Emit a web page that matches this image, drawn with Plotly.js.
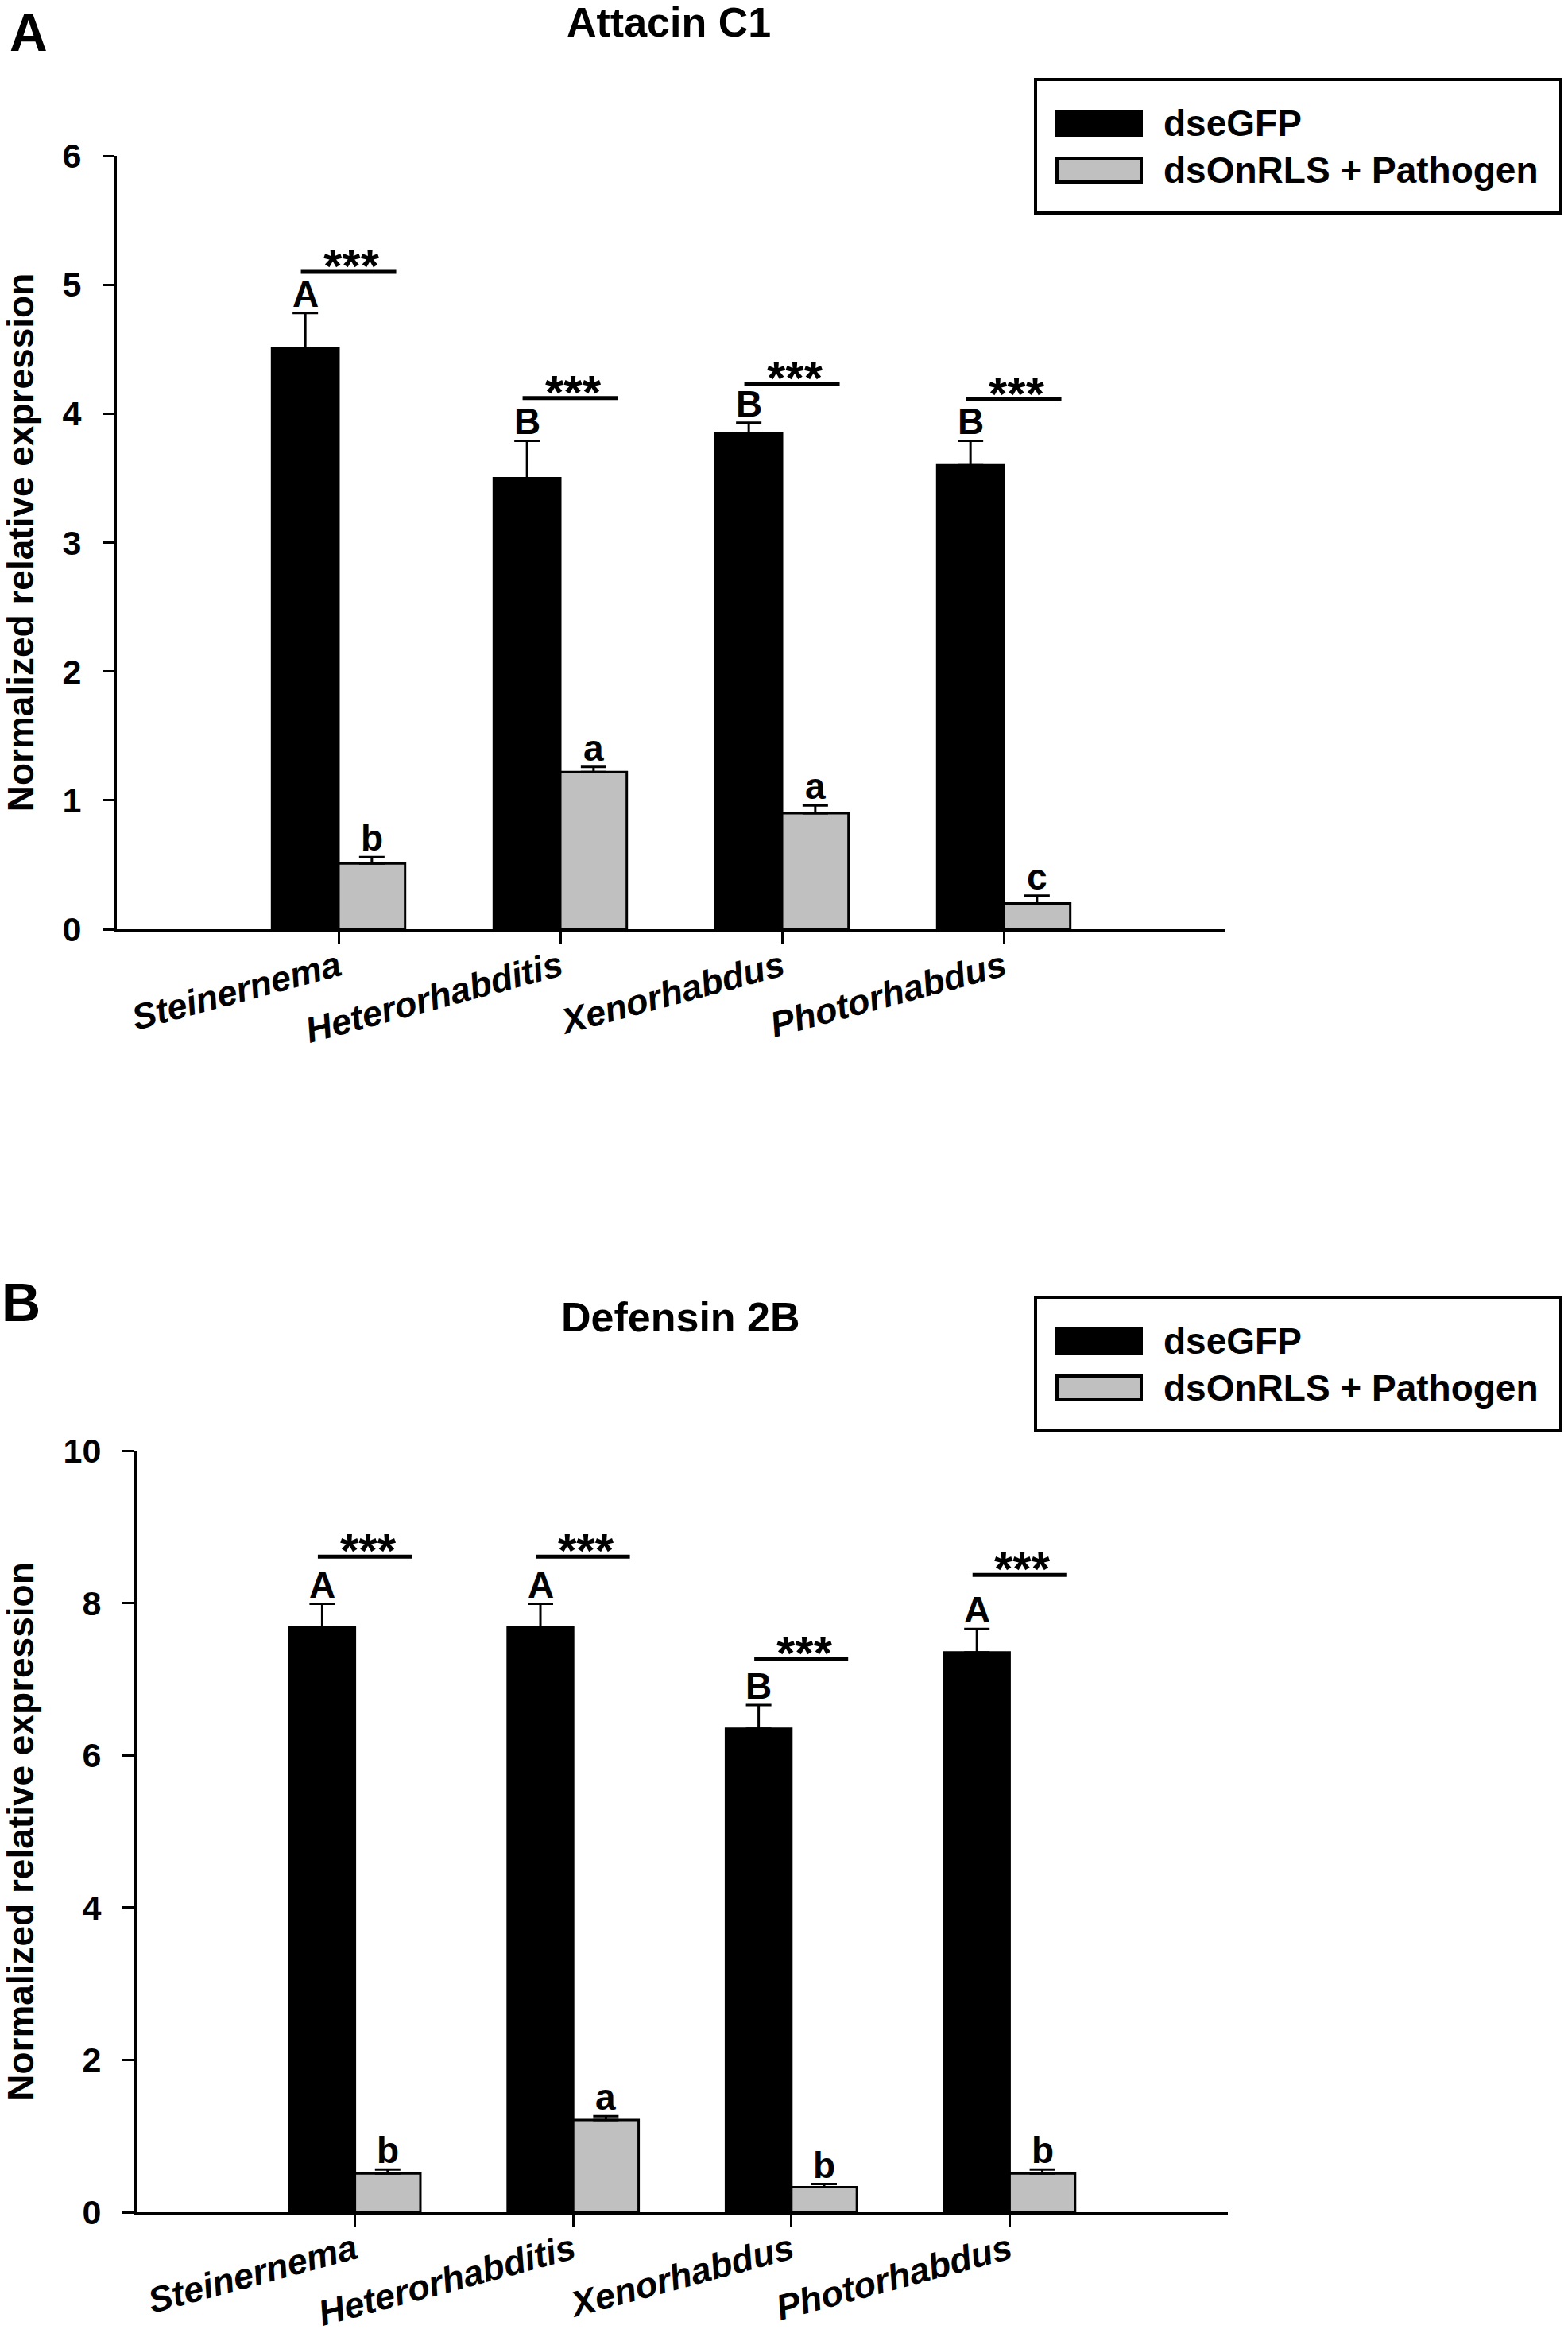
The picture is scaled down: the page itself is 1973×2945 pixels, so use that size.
<!DOCTYPE html>
<html>
<head>
<meta charset="utf-8">
<script src="https://cdn.plot.ly/plotly-3.0.1.min.js"></script>
<style>
  body { margin: 0; background: #fff; }
  #chart { width: 1973px; height: 2945px; }
</style>
</head>
<body>
<div id="chart"></div>
<script>
var categories = ['Steinernema', 'Heterorhabditis', 'Xenorhabdus', 'Photorhabdus'];
var seriesNames = ['dseGFP', 'dsOnRLS + Pathogen'];

// panel A - Attacin C1
var attacinControl = [4.51, 3.50, 3.85, 3.60];
var attacinControlErr = [0.27, 0.29, 0.08, 0.19];
var attacinPathogen = [0.51, 1.22, 0.90, 0.20];
var attacinPathogenErr = [0.05, 0.04, 0.06, 0.06];
var attacinControlLetters = ['A', 'B', 'B', 'B'];
var attacinPathogenLetters = ['b', 'a', 'a', 'c'];
var attacinStarLevel = [5.10, 4.12, 4.23, 4.11];

// panel B - Defensin 2B
var defensinControl = [7.68, 7.68, 6.35, 7.35];
var defensinControlErr = [0.31, 0.31, 0.31, 0.31];
var defensinPathogen = [0.51, 1.21, 0.33, 0.51];
var defensinPathogenErr = [0.05, 0.05, 0.04, 0.05];
var defensinControlLetters = ['A', 'A', 'B', 'A'];
var defensinPathogenLetters = ['b', 'a', 'b', 'b'];
var defensinStarLevel = [8.61, 8.61, 7.27, 8.37];

var W = 1973, H = 2945;
var FONT = 'Liberation Sans, Arial, Helvetica, sans-serif';
var GREY = '#c0c0c0';
var HALF = 0.15; // half of one bar width in category units

function px(x) { return x / W; }
function py(y) { return 1 - y / H; }

var xs = categories.map(function (c, i) { return i; });
var zeros = categories.map(function () { return 0; });

function makeBars(vals, errs, color, name, xa, ya) {
    return {
        type: 'bar',
        x: xs,
        y: vals,
        name: name,
        xaxis: xa,
        yaxis: ya,
        marker: { color: color, line: { color: '#000', width: 3 } },
        error_y: {
            type: 'data', symmetric: false,
            array: errs, arrayminus: zeros,
            color: '#000', thickness: 3, width: 16
        },
        showlegend: false,
        hoverinfo: 'skip'
    };
}

var data = [
    makeBars(attacinControl, attacinControlErr, '#000', seriesNames[0], 'x', 'y'),
    makeBars(attacinPathogen, attacinPathogenErr, GREY, seriesNames[1], 'x', 'y'),
    makeBars(defensinControl, defensinControlErr, '#000', seriesNames[0], 'x2', 'y2'),
    makeBars(defensinPathogen, defensinPathogenErr, GREY, seriesNames[1], 'x2', 'y2')
];

var annotations = [];
var shapes = [];

// letters above error bars and significance bars
function addMarks(ctrl, ctrlErr, path, pathErr, ctrlLet, pathLet, stars, xr, yr) {
    for (var i = 0; i < xs.length; i++) {
        annotations.push({
            xref: xr, yref: yr, x: xs[i] - HALF, y: ctrl[i] + ctrlErr[i],
            text: ctrlLet[i], showarrow: false, yanchor: 'bottom', yshift: -4,
            font: { family: FONT, size: 46, weight: 'bold', color: '#000' }
        });
        annotations.push({
            xref: xr, yref: yr, x: xs[i] + HALF, y: path[i] + pathErr[i],
            text: pathLet[i], showarrow: false, yanchor: 'bottom', yshift: -4,
            font: { family: FONT, size: 46, weight: 'bold', color: '#000' }
        });
        shapes.push({
            type: 'line', xref: xr, yref: yr,
            x0: xs[i] - 0.17, x1: xs[i] + 0.26, y0: stars[i], y1: stars[i],
            line: { color: '#000', width: 5 }
        });
        annotations.push({
            xref: xr, yref: yr, x: xs[i] + 0.06, y: stars[i],
            text: '***', showarrow: false, yanchor: 'bottom', yshift: -28,
            font: { family: FONT, size: 60, weight: 'bold', color: '#000' }
        });
    }
}
addMarks(attacinControl, attacinControlErr, attacinPathogen, attacinPathogenErr,
    attacinControlLetters, attacinPathogenLetters, attacinStarLevel, 'x', 'y');
addMarks(defensinControl, defensinControlErr, defensinPathogen, defensinPathogenErr,
    defensinControlLetters, defensinPathogenLetters, defensinStarLevel, 'x2', 'y2');

// panel titles and letters
function addText(txt, x, y, size, anchor, vanchor) {
    annotations.push({
        xref: 'paper', yref: 'paper', x: px(x), y: py(y), text: txt,
        showarrow: false, xanchor: anchor || 'center', yanchor: vanchor || 'middle',
        font: { family: FONT, size: size, weight: 'bold', color: '#000' }
    });
}
addText('A', 10, 2, 66, 'left', 'top');
addText('Attacin C1', 841, 28, 52);
addText('B', 26, 1638, 68);
addText('Defensin 2B', 856, 1657, 52);

// boxed legends, drawn by hand to get the wide swatches
function addLegend(top) {
    shapes.push({
        type: 'rect', xref: 'paper', yref: 'paper',
        x0: px(1303), x1: px(1964), y0: py(top), y1: py(top + 168),
        line: { color: '#000', width: 4 }, fillcolor: 'rgba(0,0,0,0)'
    });
    var fills = ['#000', GREY];
    for (var k = 0; k < seriesNames.length; k++) {
        var cy = top + 55 + k * 59;
        shapes.push({
            type: 'rect', xref: 'paper', yref: 'paper',
            x0: px(1330), x1: px(1436), y0: py(cy - 15), y1: py(cy + 15),
            line: { color: '#000', width: 4 }, fillcolor: fills[k]
        });
        addText(seriesNames[k], 1462, cy, 46, 'left');
    }
}
addLegend(100);
addLegend(1632);

function xAxis(anchor, x0, x1) {
    return {
        anchor: anchor, domain: [px(x0), px(x1)], range: [-1, 4],
        tickvals: xs, ticktext: categories, tickangle: -15,
        showline: true, linewidth: 3, linecolor: '#000',
        ticks: 'outside', ticklen: 15, tickwidth: 3, tickcolor: '#000',
        ticklabelstandoff: -14,
        tickfont: { family: FONT, size: 45, weight: 'bold', style: 'italic', color: '#000' },
        showgrid: false, zeroline: false, fixedrange: true
    };
}
function yAxis(anchor, top, bottom, maxV, step) {
    return {
        anchor: anchor, domain: [py(bottom), py(top)], range: [0, maxV],
        tick0: 0, dtick: step,
        showline: true, linewidth: 3, linecolor: '#000',
        ticks: 'outside', ticklen: 15, tickwidth: 3, tickcolor: '#000',
        ticklabelstandoff: 18,
        tickfont: { family: FONT, size: 43, weight: 'bold', color: '#000' },
        title: {
            text: 'Normalized relative expression', standoff: 24,
            font: { family: FONT, size: 46, weight: 'bold', color: '#000' }
        },
        showgrid: false, zeroline: false, fixedrange: true
    };
}

var layout = {
    width: W, height: H,
    margin: { l: 0, r: 0, t: 0, b: 0 },
    paper_bgcolor: '#fff', plot_bgcolor: '#fff',
    barmode: 'group', bargap: 0.4, bargroupgap: 0,
    showlegend: false,
    xaxis: xAxis('y', 147, 1542),
    yaxis: yAxis('x', 196, 1169, 6, 1),
    xaxis2: xAxis('y2', 172, 1545),
    yaxis2: yAxis('x2', 1825, 2783, 10, 2),
    annotations: annotations,
    shapes: shapes
};

Plotly.newPlot('chart', data, layout, { displayModeBar: false, staticPlot: true });
</script>
</body>
</html>
